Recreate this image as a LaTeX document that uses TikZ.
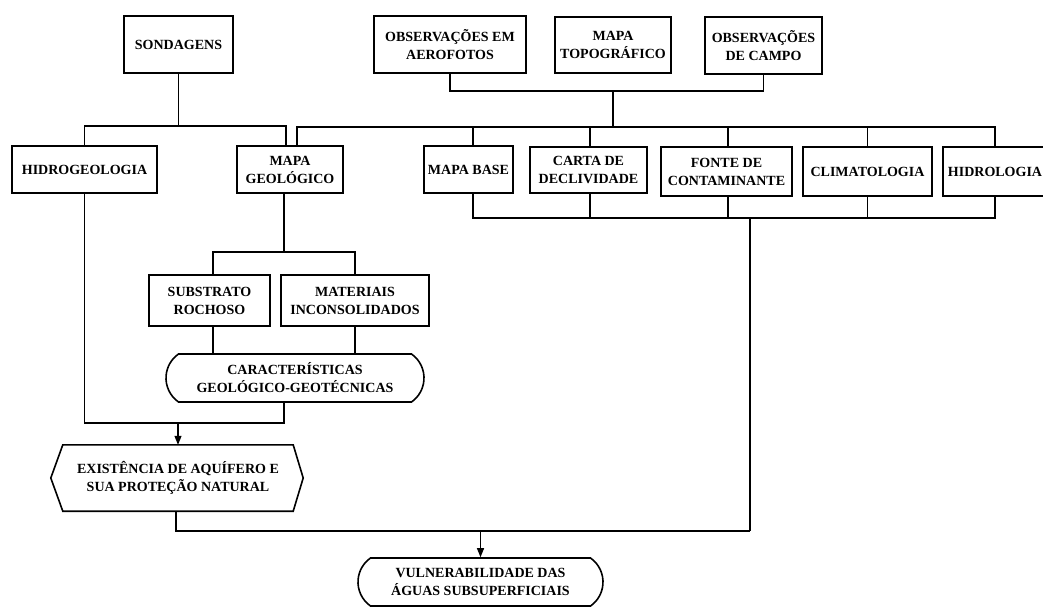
\documentclass[tikz,border=0pt]{standalone}
\usepackage{fontspec}
\setmainfont{Liberation Serif}
\usetikzlibrary{shapes.misc,arrows.meta,calc}
\begin{document}
\begin{tikzpicture}[x=1pt,y=-1pt,
  txt/.style={inner sep=0pt, align=center, font=\fontsize{14}{18}\selectfont\bfseries},
  box/.style={txt, draw, line width=1.6pt, rectangle},
  pill/.style={txt, draw, line width=1.6pt, rounded rectangle, rounded rectangle arc length=110},
  conn/.style={line width=1.2pt},
  arr/.style={conn,-{Triangle[length=9pt,width=7pt]}}
]
\useasboundingbox (0,0) rectangle (1043,607);

% top row
\node[box, minimum width=109pt, minimum height=57pt] (sond) at (178.5,44.5) {SONDAGENS};
\node[box, minimum width=152pt, minimum height=57pt] (aero) at (450,44.5) {OBSERVAÇÕES EM\\AEROFOTOS};
\node[box, minimum width=116pt, minimum height=56pt] (topo) at (613,45) {MAPA\\TOPOGRÁFICO};
\node[box, minimum width=117pt, minimum height=57pt] (campo) at (763.5,45.5) {OBSERVAÇÕES\\DE CAMPO};

% second row
\node[box, minimum width=145pt, minimum height=47pt] (hidrog) at (84.5,169.5) {HIDROGEOLOGIA};
\node[box, minimum width=106pt, minimum height=47pt] (mapageo) at (290,169.5) {MAPA\\GEOLÓGICO};
\node[box, minimum width=89pt, minimum height=47pt] (mapabase) at (468.5,169.5) {MAPA BASE};
\node[box, minimum width=117pt, minimum height=46pt] (carta) at (588.5,170) {CARTA DE\\DECLIVIDADE};
\node[box, minimum width=131pt, minimum height=49pt] (fonte) at (726.5,171.5) {FONTE DE\\CONTAMINANTE};
\node[box, minimum width=129pt, minimum height=49pt] (clima) at (867.5,171.5) {CLIMATOLOGIA};
\node[box, minimum width=104pt, minimum height=49pt] (hidro) at (995,171.5) {HIDROLOGIA};

% geology branch
\node[box, minimum width=121pt, minimum height=51pt] (subst) at (209.5,300.5) {SUBSTRATO\\ROCHOSO};
\node[box, minimum width=148pt, minimum height=51pt] (mat) at (355,300.5) {MATERIAIS\\INCONSOLIDADOS};
\node[pill, minimum width=258pt, minimum height=48pt] (caract) at (295,378) {CARACTERÍSTICAS\\GEOLÓGICO-GEOTÉCNICAS};

% results
\node[txt, minimum width=230pt, minimum height=66pt] (exist) at (178,478) {EXISTÊNCIA DE AQUÍFERO E\\SUA PROTEÇÃO NATURAL};
\draw[line width=1.6pt] (exist.north west) -- (exist.north east) -- ([xshift=10pt]exist.east)
  -- (exist.south east) -- (exist.south west) -- ([xshift=-12pt]exist.west) -- cycle;
\node[pill, minimum width=245pt, minimum height=48pt] (vuln) at (480.5,582) {VULNERABILIDADE DAS\\ÁGUAS SUBSUPERFICIAIS};

% junctions
\coordinate (j1) at (178.5,126);
\coordinate (j2) at (613,91);
\coordinate (j3) at (613,127);
\coordinate (j4) at (750,218);
\coordinate (j5) at (750,531);
\coordinate (j6) at (284,252);
\coordinate (j7) at (284,423);

% sondagens
\draw[conn] (sond.south) -- (j1);
\draw[conn] (hidrog.north) |- (j1) -| ([xshift=-4pt]mapageo.north);

% observations
\draw[conn] (aero.south) |- (j2) -| (campo.south);
\draw[conn] (j2) -- (j3);
\draw[conn] ([xshift=7pt]mapageo.north) |- (j3) -| (hidro.north);
\draw[conn] ([xshift=4.5pt]mapabase.north) -- ([xshift=4.5pt]mapabase.north |- j3);
\draw[conn] ([xshift=1.5pt]carta.north) -- ([xshift=1.5pt]carta.north |- j3);
\draw[conn] ([xshift=1.5pt]fonte.north) -- ([xshift=1.5pt]fonte.north |- j3);
\draw[conn] (clima.north) -- (clima.north |- j3);

% lower bracket
\draw[conn] ([xshift=4.5pt]mapabase.south) |- (j4) -| (hidro.south);
\draw[conn] ([xshift=1.5pt]carta.south) -- ([xshift=1.5pt]carta.south |- j4);
\draw[conn] ([xshift=1.5pt]fonte.south) -- ([xshift=1.5pt]fonte.south |- j4);
\draw[conn] (clima.south) -- (clima.south |- j4);
\draw[conn] (j4) -- (j5);

% geology
\draw[conn] ([xshift=-6pt]mapageo.south) -- (j6);
\draw[conn] ([xshift=3.5pt]subst.north) |- (j6) -| (mat.north);
\draw[conn] ([xshift=3.5pt]subst.south) -- ([xshift=3.5pt]subst.south |- caract.north);
\draw[conn] (mat.south) -- (mat.south |- caract.north);

% to aquifer
\draw[conn] (hidrog.south) |- (j7) -- ([xshift=-11pt]caract.south);
\draw[arr] (exist.north |- j7) -- (exist.north);

% to vulnerability
\draw[conn] ([xshift=-2pt]exist.south) |- (j5);
\draw[arr] (vuln.north |- j5) -- (vuln.north);
\end{tikzpicture}
\end{document}
